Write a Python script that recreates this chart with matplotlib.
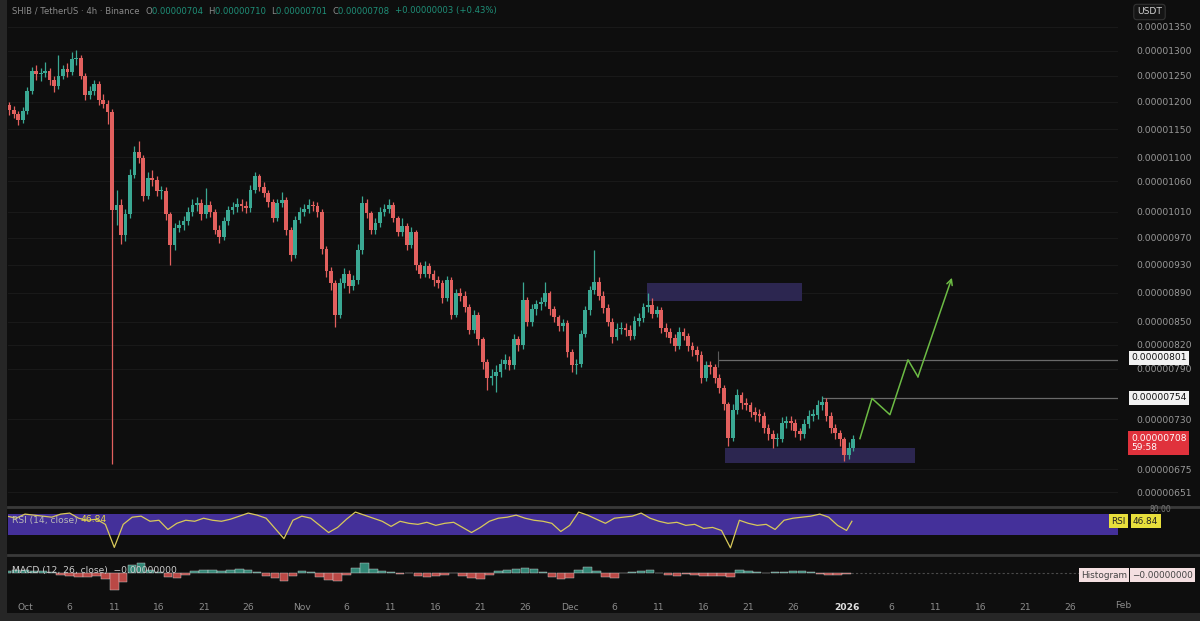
import numpy as np
import matplotlib
matplotlib.use("Agg")
from matplotlib import pyplot as plt
from matplotlib.patches import Rectangle
from matplotlib.lines import Line2D

# 12h candles starting Sep 29 (day -2 = Sep 29, day 0 = Oct 1), prices in 1e-8 USDT
first_open = 1195
closes = [
    1185, 1178, 1167, 1183, 1221, 1260, 1254, 1256, 1260, 1242,
    1230, 1250, 1263, 1257, 1284, 1286, 1250, 1213, 1221, 1234,
    1204, 1196, 1181, 1013, 1021, 974, 1006, 1071, 1109, 1099,
    1036, 1066, 1062, 1044, 1044, 1006, 959, 985, 990, 996,
    1010, 1021, 1025, 1006, 1021, 1010, 982, 971, 995, 1013,
    1018, 1023, 1020, 1016, 1046, 1068, 1051, 1041, 1026, 1001,
    1024, 1029, 982, 944, 998, 1010, 1015, 1021, 1020, 1010,
    953, 921, 903, 860, 903, 917, 899, 908, 952, 1024,
    1008, 982, 992, 1010, 1015, 1021, 1000, 979, 988, 959,
    979, 929, 917, 928, 917, 908, 903, 883, 908, 860,
    889, 886, 870, 840, 860, 827, 798, 778, 781, 786,
    796, 801, 795, 827, 820, 880, 850, 867, 874, 877,
    889, 867, 857, 845, 848, 811, 794, 796, 834, 866,
    894, 905, 886, 869, 850, 830, 841, 842, 840, 832,
    851, 855, 870, 873, 861, 866, 842, 837, 829, 819,
    837, 832, 819, 813, 807, 779, 794, 792, 779, 766,
    747, 709, 741, 758, 749, 746, 738, 735, 734, 720,
    713, 707, 707, 726, 728, 725, 716, 713, 724, 734,
    735, 746, 750, 734, 720, 714, 707, 690, 698, 708,
]
highs = [
    1200, 1192, 1183, 1190, 1228, 1268, 1272, 1266, 1278, 1266,
    1250, 1292, 1272, 1276, 1298, 1302, 1292, 1256, 1230, 1242,
    1240, 1215, 1204, 1186, 1045, 1030, 1015, 1080, 1120, 1128,
    1104, 1075, 1078, 1068, 1052, 1050, 1010, 992, 998, 1004,
    1018, 1030, 1034, 1030, 1048, 1028, 1014, 990, 1002, 1020,
    1026, 1032, 1030, 1028, 1054, 1075, 1072, 1058, 1046, 1030,
    1030, 1042, 1034, 986, 1004, 1018, 1022, 1030, 1028, 1026,
    1014, 958, 926, 908, 910, 925, 922, 915, 960, 1035,
    1030, 1012, 1000, 1018, 1022, 1030, 1026, 1004, 1000, 992,
    986, 982, 934, 935, 932, 922, 914, 908, 914, 912,
    895, 896, 892, 874, 866, 864, 830, 802, 790, 794,
    802, 808, 806, 834, 832, 905, 884, 874, 880, 884,
    905, 892, 872, 860, 854, 852, 815, 802, 840, 872,
    900, 952, 912, 892, 874, 855, 848, 850, 848, 846,
    858, 862, 876, 890, 882, 872, 870, 848, 842, 834,
    843, 842, 836, 824, 818, 812, 800, 800, 796, 784,
    770, 750, 748, 765, 762, 755, 750, 744, 742, 738,
    724, 718, 714, 732, 734, 733, 730, 720, 730, 740,
    742, 752, 757, 754, 738, 724, 718, 710, 704, 712,
]
lows = [
    1176, 1170, 1158, 1162, 1178, 1215, 1242, 1240, 1248, 1232,
    1218, 1225, 1244, 1248, 1252, 1272, 1244, 1204, 1206, 1214,
    1195, 1188, 1160, 680, 990, 960, 965, 1000, 1065, 1090,
    1028, 1030, 1052, 1035, 1030, 998, 930, 952, 978, 982,
    990, 1004, 1012, 998, 1000, 1002, 975, 962, 966, 990,
    1006, 1010, 1012, 1008, 1010, 1040, 1044, 1034, 1018, 994,
    996, 1018, 974, 935, 940, 992, 1004, 1008, 1012, 1002,
    946, 912, 894, 843, 855, 896, 890, 893, 902, 946,
    1000, 975, 976, 986, 1004, 1008, 994, 972, 972, 952,
    954, 922, 910, 912, 910, 900, 896, 876, 878, 854,
    856, 878, 864, 834, 835, 820, 790, 764, 770, 762,
    780, 790, 788, 790, 812, 815, 844, 845, 860, 866,
    872, 860, 850, 838, 838, 804, 786, 784, 792, 830,
    860, 888, 880, 862, 844, 822, 826, 834, 832, 826,
    828, 845, 850, 864, 855, 856, 836, 830, 822, 812,
    815, 826, 812, 806, 800, 772, 775, 784, 772, 760,
    740, 700, 705, 736, 742, 740, 732, 728, 727, 714,
    706, 698, 700, 704, 720, 718, 710, 706, 709, 720,
    728, 730, 740, 728, 714, 708, 700, 684, 686, 694,
]

# daily RSI(14) readings, day -2 .. 92, plus the live value
rsi = [
    66, 62, 70, 68, 66, 64, 70, 72, 62, 58,
    60, 50, 5, 50, 64, 66, 56, 58, 40, 52,
    58, 56, 62, 58, 56, 60, 66, 72, 68, 62,
    42, 22, 58, 66, 62, 48, 34, 44, 60, 74,
    68, 62, 56, 46, 56, 52, 50, 54, 48, 52,
    54, 44, 34, 44, 56, 62, 64, 68, 62, 58,
    56, 52, 36, 48, 74, 68, 60, 52, 62, 64,
    66, 72, 62, 56, 52, 54, 48, 50, 42, 44,
    38, 4, 58, 52, 48, 50, 40, 58, 62, 64,
    66, 70, 64, 48, 38,
]
rsi_last = 56

# daily MACD histogram readings (1e-9 USDT), day -2 .. 92
macd_hist = [
    2, 3, 3, 2, 2, 1, -2, -3, -4, -4,
    -3, -6, -17, -9, 8, 10, 3, 1, -4, -5,
    -2, 2, 3, 3, 2, 3, 4, 3, 1, -3,
    -5, -8, -3, 2, 1, -4, -7, -8, -2, 5,
    10, 4, 2, 1, -1, 0, -3, -4, -3, -2,
    0, -3, -5, -6, -2, 2, 3, 4, 5, 4,
    1, -4, -6, -5, 3, 6, 2, -4, -5, 0,
    1, 2, 3, 0, -2, -3, -1, -2, -3, -3,
    -3, -4, 3, 2, 1, 0, 1, 1, 2, 2,
    1, -1, -2, -2, -1,
]

# axis ticks
price_ticks = [1350, 1300, 1250, 1200, 1150, 1100, 1060, 1010, 970, 930,
               890, 850, 820, 790, 730, 675, 651]
date_ticks = [0, 5, 10, 15, 20, 25, 31, 36, 41, 46, 51, 56, 61, 66, 71, 76,
              81, 86, 92, 97, 102, 107, 112, 117]
date_labels = ["Oct", "6", "11", "16", "21", "26", "Nov", "6", "11", "16", "21",
               "26", "Dec", "6", "11", "16", "21", "26", "2026", "6", "11",
               "16", "21", "26"]

# drawn zones / levels / projection
supply_zone = (69.65, 87.0, 879, 904)
demand_zone = (78.4, 99.7, 681, 698)
level_801 = (77.6, 801)
level_754 = (89.2, 754)
proj_days = [93.5, 94.85, 96.86, 98.88, 100.0, 103.8]
proj_prices = [708, 754, 735, 801, 780, 911]

S = 1e-8
BG = "#0e0e0e"
UP = "#3aa893"
DOWN = "#e2605e"
GREY = "#9a9a9a"
XMIN, XMAX = -1.904, 122.4


def px(x, y):
    return x / 1200, 1 - y / 621


fig = plt.figure(figsize=(12, 6.21), dpi=100, facecolor=BG)

# Main price panel
ax = fig.add_axes([8 / 1200, 1 - 505 / 621, 1110 / 1200, 505 / 621], facecolor=BG)
c = np.array(closes, dtype=float)
o = np.array([first_open] + closes[:-1], dtype=float)
h = np.array(highs, dtype=float)
l = np.array(lows, dtype=float)
t = -2 + 0.5 * np.arange(len(c)) + 0.25
cols = np.where(c >= o, UP, DOWN)
ax.vlines(t, l * S, h * S, colors=cols, lw=0.9, zorder=3)
body_lo = np.minimum(o, c)
body_h = np.maximum(np.abs(c - o), 1.5)
ax.bar(t, body_h * S, bottom=body_lo * S, width=0.42, color=cols, zorder=4, linewidth=0)

ax.set_yscale("log")
ax.set_ylim(638 * S, 1408 * S)
ax.set_xlim(XMIN, XMAX)
ax.yaxis.tick_right()
ax.yaxis.set_minor_locator(matplotlib.ticker.NullLocator())
ax.set_yticks([v * S for v in price_ticks])
ax.set_yticklabels([f"{v * S:.8f}" for v in price_ticks])
ax.tick_params(axis="y", length=0, pad=13, labelsize=6.6, colors=GREY)
ax.set_xticks([])
ax.grid(axis="y", color="#191919", lw=0.8, zorder=0)
for sp in ax.spines.values():
    sp.set_visible(False)

# Zones
for x0, x1, p0, p1 in (supply_zone, demand_zone):
    ax.add_patch(Rectangle((x0, p0 * S), x1 - x0, (p1 - p0) * S,
                           facecolor="#2c2650", edgecolor="none", zorder=2))

# Horizontal levels
for x0, p in (level_801, level_754):
    ax.hlines(p * S, x0, XMAX, color="#6a6a6a", lw=0.9, zorder=2)
ax.vlines(level_801[0], 792 * S, 812 * S, color="#5a5a5a", lw=0.8, zorder=2)

# Projection path
green = "#6cbb44"
ax.plot(proj_days[:-1], [p * S for p in proj_prices[:-1]], color=green, lw=1.1, zorder=5)
ax.annotate("", xy=(proj_days[-1], proj_prices[-1] * S),
            xytext=(proj_days[-2], proj_prices[-2] * S),
            arrowprops=dict(arrowstyle="->", color=green, lw=1.1,
                            shrinkA=0, shrinkB=0), zorder=5)

# Header
parts = [("SHIB / TetherUS · 4h · Binance  ", "#8a8a8a"), ("O", "#8a8a8a"),
         ("0.00000704  ", "#1f8f78"), ("H", "#8a8a8a"), ("0.00000710  ", "#1f8f78"),
         ("L", "#8a8a8a"), ("0.00000701  ", "#1f8f78"), ("C", "#8a8a8a"),
         ("0.00000708  ", "#1f8f78"), ("+0.00000003 (+0.43%)", "#1f8f78")]
prev = ax.annotate(parts[0][0], xy=px(12, 11), xycoords="figure fraction",
                   va="center", ha="left", color=parts[0][1], fontsize=6.1)
for txt, col in parts[1:]:
    prev = ax.annotate(txt, xy=(1, 0.5), xycoords=prev, va="center", ha="left",
                       color=col, fontsize=6.1)

# Right-side labels
fig.text(*px(1137, 12), "USDT", color="#d0d0d0", fontsize=6.6, va="center",
         bbox=dict(boxstyle="round,pad=0.35", fc="#151515", ec="#333333", lw=0.8))
fig.text(*px(1131, 358), "0.00000801", color="#111111", fontsize=6.6, va="center",
         bbox=dict(boxstyle="square,pad=0.25", fc="#f2f2f2", ec="none"))
fig.text(*px(1131, 398), "0.00000754", color="#111111", fontsize=6.6, va="center",
         bbox=dict(boxstyle="square,pad=0.25", fc="#f2f2f2", ec="none"))
fig.text(*px(1131, 443), "0.00000708\n59:58", color="#ffffff", fontsize=6.6,
         va="center", linespacing=1.1,
         bbox=dict(boxstyle="square,pad=0.3", fc="#e0323c", ec="none"))

# RSI panel
ax_rsi = fig.add_axes([8 / 1200, 1 - 553 / 621, 1110 / 1200, 44 / 621], facecolor=BG)
ax_rsi.axhspan(30, 70, color="#44309a", lw=0, zorder=1)
rsi_days = np.append(np.arange(-2, 93), 92.6)
ax_rsi.plot(rsi_days, rsi + [rsi_last], color="#d8c95a", lw=0.9, zorder=3)
ax_rsi.set_xlim(XMIN, XMAX)
ax_rsi.set_ylim(-6, 80)
ax_rsi.set_xticks([])
ax_rsi.set_yticks([])
for sp in ax_rsi.spines.values():
    sp.set_visible(False)
r1 = ax_rsi.annotate("RSI (14, close) ", xy=px(12, 520), xycoords="figure fraction",
                     va="center", color="#b8b8b8", fontsize=6.6, zorder=6)
ax_rsi.annotate("46.84", xy=(1, 0.5), xycoords=r1, va="center", color="#e6d84a",
                fontsize=6.6, zorder=6)
fig.text(*px(1111, 521), "RSI", color="#222222", fontsize=6.4, va="center",
         bbox=dict(boxstyle="square,pad=0.25", fc="#e8df3c", ec="none"))
fig.text(*px(1133, 521), "46.84", color="#222222", fontsize=6.4, va="center",
         bbox=dict(boxstyle="square,pad=0.25", fc="#e8df3c", ec="none"))
fig.text(*px(1150, 510), "80.00", color="#777777", fontsize=5.5, va="center")

# MACD panel
ax_m = fig.add_axes([8 / 1200, 1 - 597 / 621, 1110 / 1200, 40 / 621], facecolor=BG)
mh = np.array(macd_hist, dtype=float)
mdays = np.arange(-2, 93)
mcols = np.where(mh >= 0, "#3a9e8a", "#d9534f")
ax_m.bar(mdays, mh, width=0.95, color=mcols, edgecolor="#d8d8d8", linewidth=0.35,
         alpha=0.85, zorder=3)
ax_m.hlines(0, mdays[-1] + 0.5, XMAX, color="#4a4a4a", lw=0.8,
            linestyles=(0, (2, 2)), zorder=2)
ax_m.set_xlim(XMIN, XMAX)
ax_m.set_ylim(-24, 16)
ax_m.set_yticks([])
ax_m.set_xticks(date_ticks)
ax_m.set_xticklabels(date_labels)
ax_m.tick_params(axis="x", length=0, pad=4, labelsize=6.6, colors="#8c8c8c")
for lab in ax_m.get_xticklabels():
    if lab.get_text() == "2026":
        lab.set_color("#e0e0e0")
        lab.set_fontweight("bold")
ax_m.text(123, -0.2, "Feb", transform=ax_m.get_xaxis_transform(), ha="center",
          va="center", fontsize=6.6, color="#8c8c8c", clip_on=False)
for sp in ax_m.spines.values():
    sp.set_visible(False)
fig.text(*px(12, 570), "MACD (12, 26, close)  \u22120.00000000", color="#cfcfcf",
         fontsize=6.6, va="center")
fig.text(*px(1081, 575), "Histogram", color="#444444", fontsize=6.4, va="center",
         bbox=dict(boxstyle="square,pad=0.25", fc="#f4dfe1", ec="none"))
fig.text(*px(1132, 575), "\u22120.00000000", color="#444444", fontsize=6.4,
         va="center", bbox=dict(boxstyle="square,pad=0.25", fc="#f4dfe1", ec="none"))

# Pane separators and frame
for yy in (507, 555):
    fig.add_artist(Line2D([8 / 1200, 1], [1 - yy / 621] * 2, color="#3a3a3a", lw=2,
                          transform=fig.transFigure))
fig.add_artist(Rectangle((0, 0), 7 / 1200, 1, transform=fig.transFigure,
                         fc="#262626", ec="none"))
fig.add_artist(Rectangle((0, 0), 1, 8 / 621, transform=fig.transFigure,
                         fc="#262626", ec="none"))

fig.savefig("out.png", dpi=100, facecolor=BG)
